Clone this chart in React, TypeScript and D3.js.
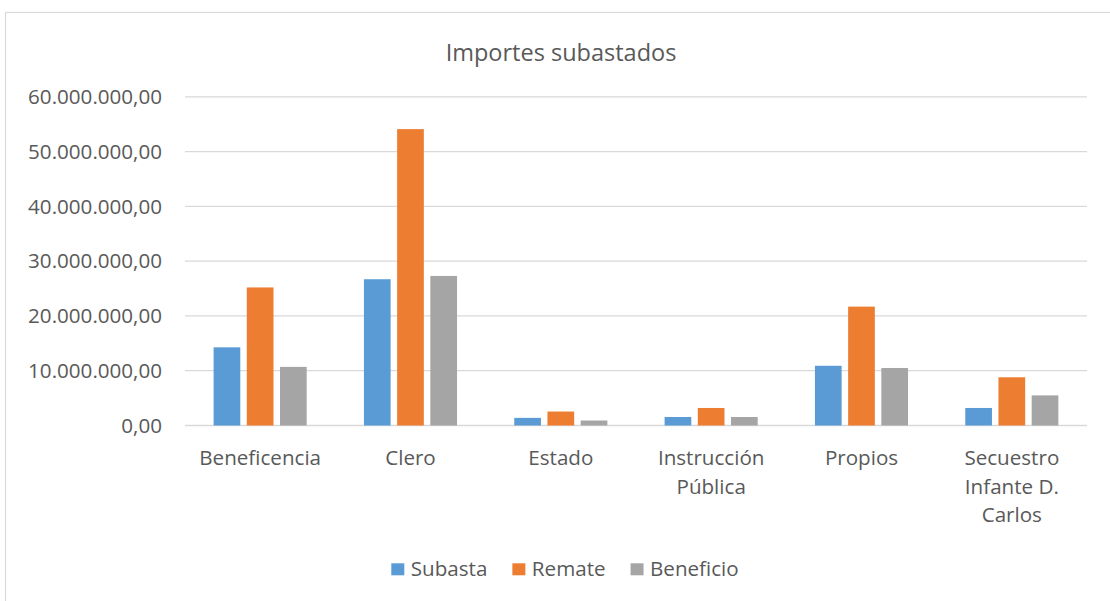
import React from "react";
import * as d3 from "d3";

const categories = ["Beneficencia", "Clero", "Estado", "Instrucción Pública", "Propios", "Secuestro Infante D. Carlos"];
const seriesNames = ["Subasta", "Remate", "Beneficio"];
const subasta = [14270000, 26700000, 1390000, 1550000, 10900000, 3200000];
const remate = [25200000, 54100000, 2550000, 3200000, 21700000, 8800000];
const beneficio = [10700000, 27300000, 910000, 1550000, 10500000, 5500000];
const yTicks = [0, 10000000, 20000000, 30000000, 40000000, 50000000, 60000000];
const colors = ["#5B9BD5", "#ED7D31", "#A5A5A5"];
const title = "Importes subastados";

const FONT = "'Open Sans', 'Noto Sans', sans-serif";
const FS = 20.6;
const TXT = "#595959";
const GRID = "#D9D9D9";

let ctx: CanvasRenderingContext2D | null = null;
function measure(t: string, size = FS) {
  if (!ctx) ctx = document.createElement("canvas").getContext("2d");
  if (!ctx) return t.length * size * 0.55;
  ctx.font = `${size}px 'Open Sans'`;
  return ctx.measureText(t).width;
}
function wrap(label: string, maxW: number) {
  const words = label.split(" ");
  const lines: string[] = [];
  let cur = "";
  for (const w of words) {
    const test = cur ? cur + " " + w : w;
    if (cur && measure(test) > maxW) {
      lines.push(cur);
      cur = w;
    } else cur = test;
  }
  if (cur) lines.push(cur);
  return lines;
}

export default function App() {
  const W = 1110, H = 601;
  const left = 185, right = 1087, top = 96.8, bottom = 425.5;
  const values = [subasta, remate, beneficio];
  const x0 = d3.scaleBand<string>().domain(categories).range([left, right]).paddingInner(0).paddingOuter(0);
  const x1 = d3.scaleBand<string>().domain(seriesNames).range([28.6, 121.7]).paddingInner(0.196).paddingOuter(0);
  const y = d3.scaleLinear().domain([0, 60000000]).range([bottom, top]);
  const loc = d3.formatLocale({ decimal: ",", thousands: ".", grouping: [3], currency: ["", ""] });
  const fmt = loc.format(",.2f");

  // legend layout
  const sq = 13, sqGap = 6.5, itemGap = 25;
  const widths = seriesNames.map((s) => measure(s));
  const total = widths.reduce((a, b) => a + b, 0) + seriesNames.length * (sq + sqGap) + itemGap * (seriesNames.length - 1);
  let lx = 565 - total / 2;
  const legendItems = seriesNames.map((s, i) => {
    const item = { s, x: lx, c: colors[i] };
    lx += sq + sqGap + widths[i] + itemGap;
    return item;
  });

  return (
    <svg width={W} height={H} style={{ position: "absolute", left: 0, top: 0, background: "#fff" }} fontFamily={FONT}>
      <rect x={0} y={0} width={W} height={H} fill="#fff" />
      <rect x={5.5} y={12.5} width={1130} height={620} fill="#fff" stroke={GRID} strokeWidth={1.2} />
      <text x={561} y={61} textAnchor="middle" fontSize={23.5} fill={TXT}>{title}</text>
      {yTicks.map((t) => (
        <g key={t}>
          <line x1={left} x2={right} y1={y(t)} y2={y(t)} stroke={GRID} strokeWidth={t === 0 ? 1.5 : 1.2} />
          <text x={162} y={y(t)} dy="0.35em" textAnchor="end" fontSize={FS} fill={TXT}>{fmt(t)}</text>
        </g>
      ))}
      {categories.map((c, ci) => (
        <g key={c} transform={`translate(${x0(c)},0)`}>
          {seriesNames.map((s, si) => (
            <rect key={s} x={x1(s)} width={x1.bandwidth()} y={y(values[si][ci])} height={bottom - y(values[si][ci])} fill={colors[si]} />
          ))}
        </g>
      ))}
      {categories.map((c) => {
        const lines = wrap(c, 140);
        const cx = (x0(c) as number) + x0.bandwidth() / 2;
        return (
          <text key={c} x={cx} y={465} textAnchor="middle" fontSize={FS} fill={TXT}>
            {lines.map((l, i) => (
              <tspan key={i} x={cx} dy={i === 0 ? 0 : 28.7}>{l}</tspan>
            ))}
          </text>
        );
      })}
      {legendItems.map((it) => (
        <g key={it.s}>
          <rect x={it.x} y={563.3} width={sq} height={12} fill={it.c} />
          <text x={it.x + sq + sqGap} y={576} fontSize={FS} fill={TXT}>{it.s}</text>
        </g>
      ))}
    </svg>
  );
}
